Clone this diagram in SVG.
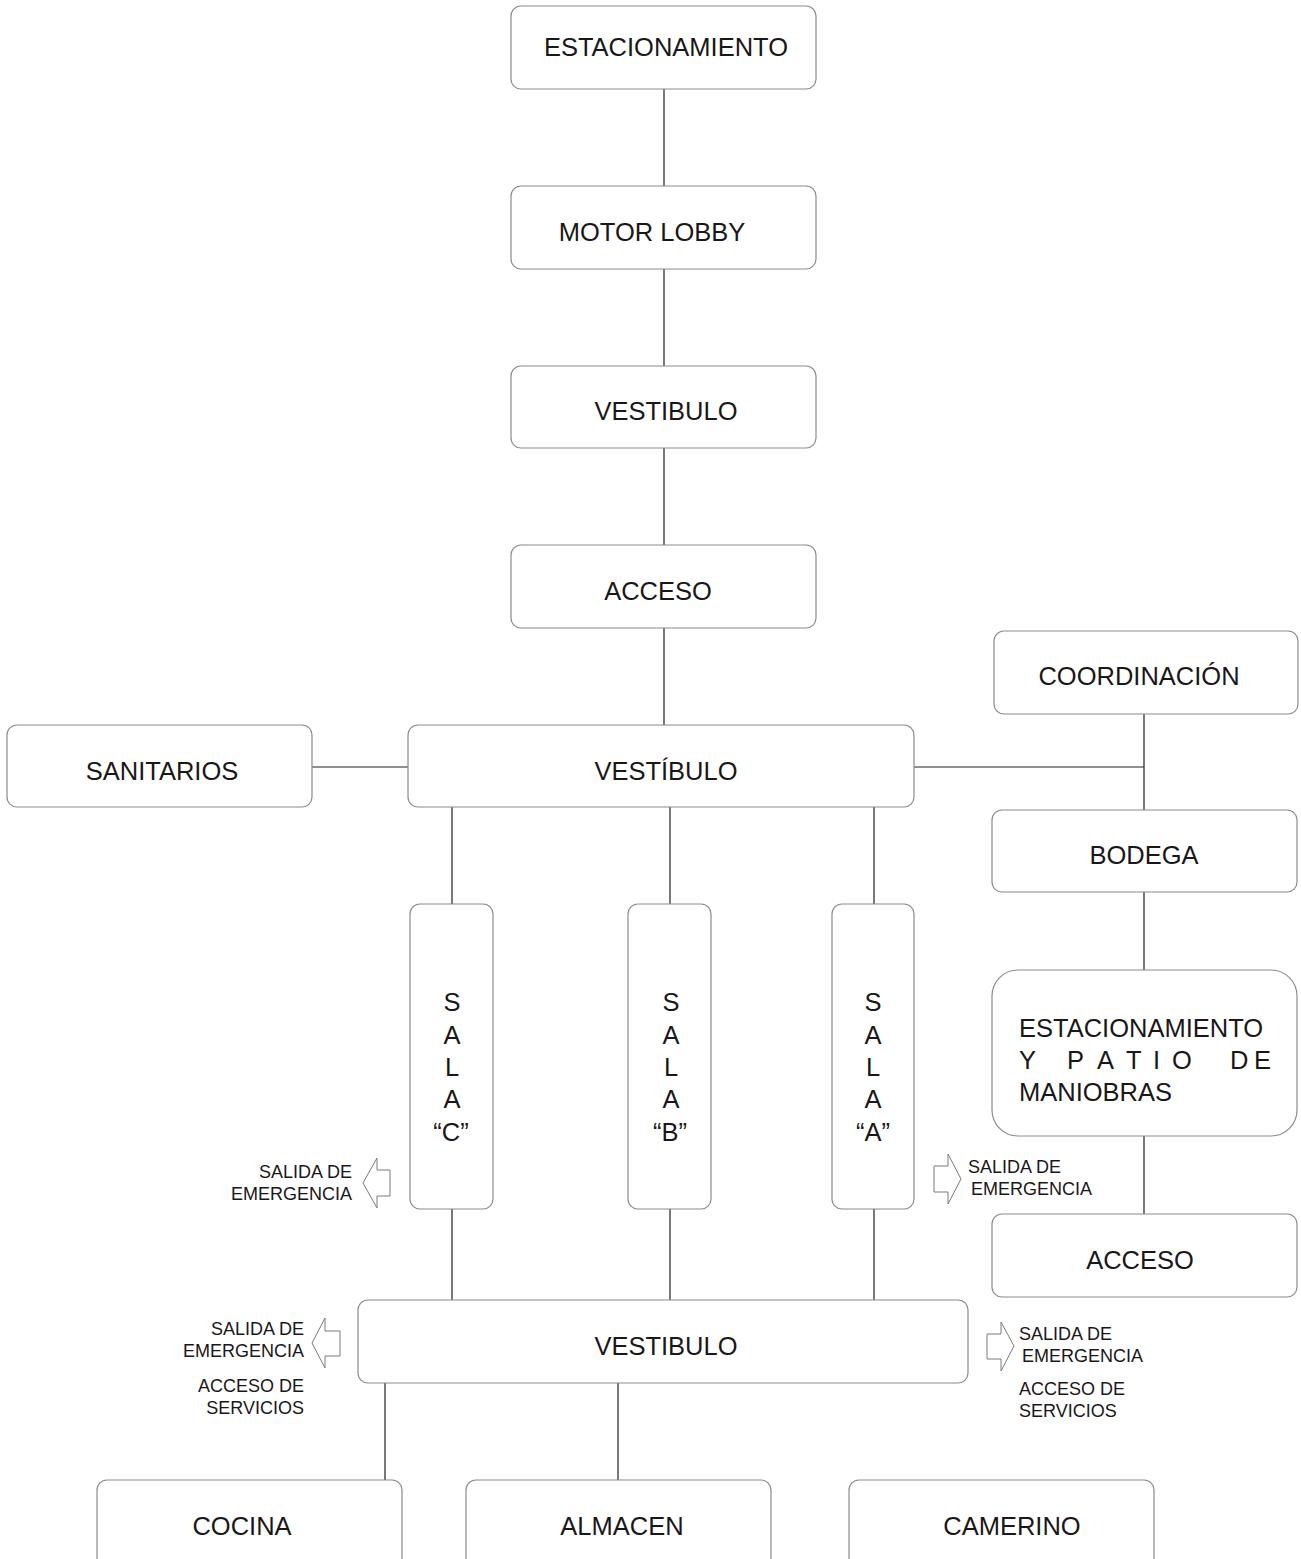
<svg xmlns="http://www.w3.org/2000/svg" width="1301" height="1559" viewBox="0 0 1301 1559">
<style>
.box{fill:#fff;stroke:#8c8c8c;stroke-width:1.2}
.t{font-family:"Liberation Sans",Arial,sans-serif;font-size:25.5px;fill:#1a1718}
.c{text-anchor:middle}
.s{font-family:"Liberation Sans",Arial,sans-serif;font-size:18px;fill:#1a1718}
.e{text-anchor:end}
.ln{stroke:#231f20;stroke-width:1.2;fill:none}
.ar{fill:#fff;stroke:#7a7a7a;stroke-width:1}
</style>
<rect width="1301" height="1559" fill="#fff"/>
<g id="connectors">
<path class="ln" d="M664 89V186M664 269V366M664 448V545M664 628V725"/>
<path class="ln" d="M312 767H408M914 767H1144M1144 714V810M1144 892V970M1144 1136V1214"/>
<path class="ln" d="M452 807V904M670 807V904M874 807V904"/>
<path class="ln" d="M452 1209V1300M670 1209V1300M874 1209V1300"/>
<path class="ln" d="M385 1383V1480M618 1383V1480"/>
</g>
<g id="n-estacionamiento"><rect class="box" x="511" y="6" width="305" height="83" rx="10"/><text class="t c" x="666" y="56">ESTACIONAMIENTO</text></g>
<g id="n-motorlobby"><rect class="box" x="511" y="186" width="305" height="83" rx="10"/><text class="t c" x="652" y="241">MOTOR LOBBY</text></g>
<g id="n-vestibulo1"><rect class="box" x="511" y="366" width="305" height="82" rx="10"/><text class="t c" x="666" y="420">VESTIBULO</text></g>
<g id="n-acceso1"><rect class="box" x="511" y="545" width="305" height="83" rx="10"/><text class="t c" x="658" y="600">ACCESO</text></g>
<g id="n-coordinacion"><rect class="box" x="994" y="631" width="304" height="83" rx="10"/><text class="t c" x="1139" y="685">COORDINACIÓN</text></g>
<g id="n-sanitarios"><rect class="box" x="7" y="725" width="305" height="82" rx="10"/><text class="t c" x="162" y="780">SANITARIOS</text></g>
<g id="n-vestibulo2"><rect class="box" x="408" y="725" width="506" height="82" rx="10"/><text class="t c" x="666" y="780">VESTÍBULO</text></g>
<g id="n-bodega"><rect class="box" x="992" y="810" width="305" height="82" rx="10"/><text class="t c" x="1144" y="864">BODEGA</text></g>
<g id="n-salac"><rect class="box" x="410" y="904" width="83" height="305" rx="10"/>
<text class="t c" x="452" y="1011">S</text><text class="t c" x="452" y="1044">A</text><text class="t c" x="452" y="1076">L</text><text class="t c" x="452" y="1108">A</text><text class="t c" x="451" y="1141">“C”</text></g>
<g id="n-salab"><rect class="box" x="628" y="904" width="83" height="305" rx="10"/>
<text class="t c" x="671" y="1011">S</text><text class="t c" x="671" y="1044">A</text><text class="t c" x="671" y="1076">L</text><text class="t c" x="671" y="1108">A</text><text class="t c" x="670" y="1141">“B”</text></g>
<g id="n-salaa"><rect class="box" x="832" y="904" width="82" height="305" rx="10"/>
<text class="t c" x="873" y="1011">S</text><text class="t c" x="873" y="1044">A</text><text class="t c" x="873" y="1076">L</text><text class="t c" x="873" y="1108">A</text><text class="t c" x="873" y="1141">“A”</text></g>
<g id="n-patio"><rect class="box" x="992" y="970" width="305" height="166" rx="26"/>
<text class="t" x="1019" y="1037">ESTACIONAMIENTO</text>
<text class="t" x="1019 1040 1067 1097 1126 1153 1172 1210 1230 1254" y="1069">Y PATIO DE</text>
<text class="t" x="1019" y="1101">MANIOBRAS</text></g>
<g id="n-acceso2"><rect class="box" x="992" y="1214" width="305" height="83" rx="10"/><text class="t c" x="1140" y="1269">ACCESO</text></g>
<g id="n-vestibulo3"><rect class="box" x="358" y="1300" width="610" height="83" rx="10"/><text class="t c" x="666" y="1355">VESTIBULO</text></g>
<g id="n-cocina"><rect class="box" x="97" y="1480" width="305" height="95" rx="10"/><text class="t c" x="242" y="1535">COCINA</text></g>
<g id="n-almacen"><rect class="box" x="466" y="1480" width="305" height="95" rx="10"/><text class="t c" x="622" y="1535">ALMACEN</text></g>
<g id="n-camerino"><rect class="box" x="849" y="1480" width="305" height="95" rx="10"/><text class="t c" x="1012" y="1535">CAMERINO</text></g>
<g id="exits">
<polygon class="ar" points="363,1183 377,1158 377,1170 390,1170 390,1196 377,1196 377,1208"/>
<text class="s e" x="352" y="1178">SALIDA DE</text><text class="s e" x="352" y="1200">EMERGENCIA</text>
<polygon class="ar" points="961,1179 948,1154 948,1166 934,1166 934,1192 948,1192 948,1204"/>
<text class="s" x="968" y="1173">SALIDA DE</text><text class="s" x="971" y="1195">EMERGENCIA</text>
<polygon class="ar" points="312,1343 325,1318 325,1331 340,1331 340,1356 325,1356 325,1368"/>
<text class="s e" x="304" y="1335">SALIDA DE</text><text class="s e" x="304" y="1357">EMERGENCIA</text>
<text class="s e" x="304" y="1392">ACCESO DE</text><text class="s e" x="304" y="1414">SERVICIOS</text>
<polygon class="ar" points="1014,1346 1001,1322 1001,1334 987,1334 987,1359 1001,1359 1001,1371"/>
<text class="s" x="1019" y="1340">SALIDA DE</text><text class="s" x="1022" y="1362">EMERGENCIA</text>
<text class="s" x="1019" y="1395">ACCESO DE</text><text class="s" x="1019" y="1417">SERVICIOS</text>
</g>
</svg>
